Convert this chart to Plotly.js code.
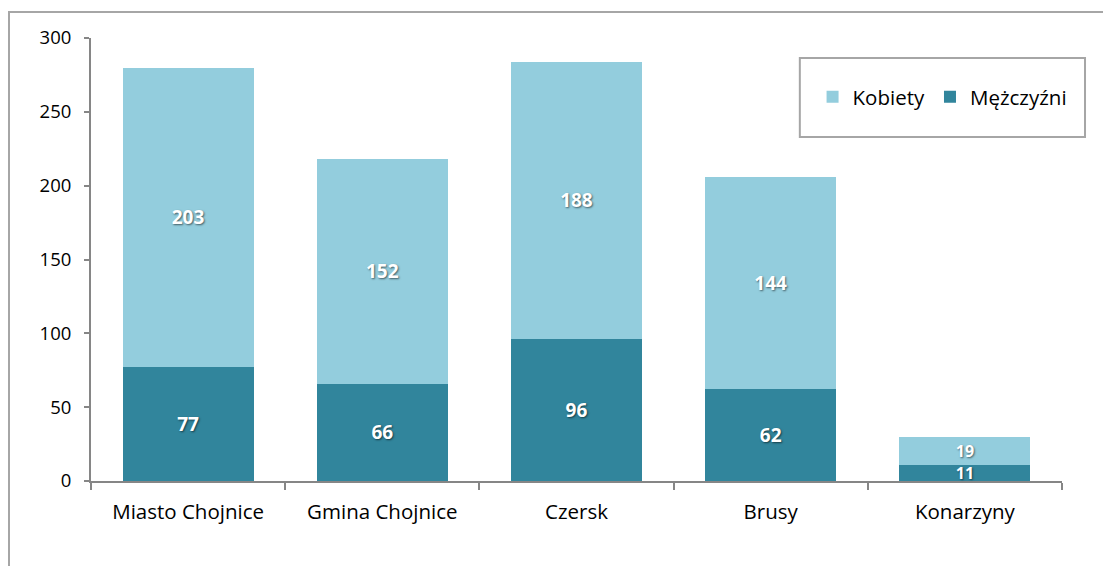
<!DOCTYPE html>
<html>
<head>
<meta charset="utf-8">
<script src="https://cdn.plot.ly/plotly-3.0.1.min.js"></script>
<style>
  html, body { margin: 0; padding: 0; background: #fff; }
  #wrap { position: relative; width: 1103px; height: 566px; overflow: hidden; background: #fff; }
  #frame { position: absolute; left: 8px; top: 11px; width: 1300px; height: 800px; border: 2px solid #A6A6A6; box-sizing: border-box; }
  #chart { position: absolute; left: 0; top: 0; width: 1103px; height: 566px; }
</style>
</head>
<body>
<div id="wrap">
  <div id="frame"></div>
  <div id="chart"></div>
</div>
<script>
const categories = ["Miasto Chojnice", "Gmina Chojnice", "Czersk", "Brusy", "Konarzyny"];
const mezczyzni = [77, 66, 96, 62, 11];
const kobiety = [203, 152, 188, 144, 19];
const yTicks = [0, 50, 100, 150, 200, 250, 300];

const FONT = '"Open Sans", "Noto Sans", sans-serif';
// smaller label text on very short stacks so the two labels do not collide
const labelSizes = categories.map((c, i) => (mezczyzni[i] + kobiety[i] < 50 ? 16 : 19));
const labelFont = { family: FONT, size: labelSizes, color: '#ffffff', weight: 'bold', shadow: '1px 1px 2px rgba(0,0,0,0.55)' };

const traces = [
  {
    type: 'bar', name: 'Mężczyźni', x: categories, y: mezczyzni,
    marker: { color: '#31859C' },
    text: mezczyzni.map(String), textposition: 'inside', insidetextanchor: 'middle', textangle: 0,
    textfont: labelFont, constraintext: 'none', cliponaxis: false,
    hoverinfo: 'skip'
  },
  {
    type: 'bar', name: 'Kobiety', x: categories, y: kobiety,
    marker: { color: '#93CDDD' },
    text: kobiety.map(String), textposition: 'inside', insidetextanchor: 'middle', textangle: 0,
    textfont: labelFont, constraintext: 'none', cliponaxis: false,
    hoverinfo: 'skip'
  }
];

const layout = {
  width: 1103, height: 566,
  paper_bgcolor: 'rgba(0,0,0,0)', plot_bgcolor: 'rgba(0,0,0,0)',
  margin: { l: 91, r: 41, t: 38, b: 85 },
  barmode: 'stack', bargap: 0.325,
  font: { family: FONT, size: 18, color: '#000000' },
  xaxis: {
    type: 'category', showline: true, linecolor: '#868686', linewidth: 2,
    ticks: 'outside', tickson: 'boundaries', ticklen: 7, tickcolor: '#868686', tickwidth: 2,
    showgrid: false, zeroline: false, ticklabelstandoff: 11,
    tickfont: { family: FONT, size: 20.5, color: '#000' }
  },
  yaxis: {
    range: [0, 300], tickvals: yTicks, ticktext: yTicks.map(String),
    showline: true, linecolor: '#868686', linewidth: 2,
    ticks: 'outside', ticklen: 5, tickcolor: '#868686', tickwidth: 2,
    showgrid: false, zeroline: false, ticklabelstandoff: 9,
    tickfont: { family: FONT, size: 18.5, color: '#000' }
  },
  showlegend: true,
  legend: {
    orientation: 'h', traceorder: 'reversed',
    x: 0.877, xanchor: 'center', y: 0.867, yanchor: 'middle',
    bgcolor: 'rgba(0,0,0,0)', borderwidth: 0,
    font: { family: FONT, size: 20.5, color: '#000' }
  },
  shapes: [{
    type: 'rect', xref: 'paper', yref: 'paper',
    x0: 0.730, x1: 1.0237, y0: 0.7765, y1: 0.955,
    line: { color: '#A6A6A6', width: 2 }, fillcolor: 'rgba(0,0,0,0)'
  }]
};

Plotly.newPlot('chart', traces, layout, { displayModeBar: false, staticPlot: true });
</script>
</body>
</html>
